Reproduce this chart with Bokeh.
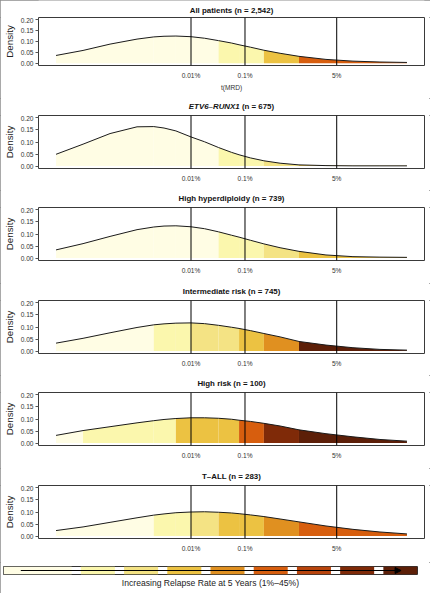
import math
from bokeh.plotting import figure
from bokeh.layouts import column, row
from bokeh.models import (Range1d, FixedTicker, NumeralTickFormatter, Span, Label,
                          Arrow, NormalHead, Title)
from bokeh.embed import file_html
from bokeh.resources import INLINE

# ---------------- data ----------------
log10_mrd = [-6.5, -6.0, -5.5, -5.0, -4.69, -4.5, -4.28, -4.0, -3.75, -3.49,
             -3.25, -3.11, -2.9, -2.65, -2.35, -2.0, -1.5, -1.0, -0.5, 0.0]

density_all = [0.036, 0.059, 0.088, 0.111, 0.121, 0.124, 0.125, 0.122, 0.115, 0.104,
               0.093, 0.085, 0.074, 0.060, 0.046, 0.032, 0.018, 0.010, 0.006, 0.004]
density_etv6 = [0.049, 0.091, 0.135, 0.163, 0.164, 0.158, 0.146, 0.121, 0.101, 0.077,
                0.057, 0.047, 0.034, 0.022, 0.012, 0.005, 0.002, 0.001, 0.001, 0.001]
density_heh = [0.034, 0.060, 0.090, 0.118, 0.129, 0.133, 0.134, 0.130, 0.122, 0.109,
               0.095, 0.087, 0.074, 0.059, 0.043, 0.028, 0.013, 0.006, 0.004, 0.003]
density_ir = [0.033, 0.053, 0.076, 0.098, 0.109, 0.113, 0.116, 0.117, 0.114, 0.107,
              0.099, 0.094, 0.085, 0.073, 0.059, 0.040, 0.025, 0.014, 0.007, 0.004]
density_hr = [0.032, 0.052, 0.068, 0.084, 0.093, 0.098, 0.102, 0.105, 0.105, 0.103,
              0.099, 0.095, 0.090, 0.082, 0.071, 0.055, 0.039, 0.026, 0.015, 0.008]
density_tall = [0.023, 0.038, 0.057, 0.076, 0.087, 0.092, 0.097, 0.100, 0.101, 0.099,
                0.096, 0.093, 0.088, 0.081, 0.071, 0.059, 0.042, 0.028, 0.017, 0.009]

band_edges = [-6.5, -6.0, -4.69, -4.28, -4.0, -3.49, -3.11, -2.65, -2.0, 0.0]

levels_all = [0, 0, 0, 0, 0, 1, 1, 3, 5]
levels_etv6 = [0, 0, 0, 0, 0, 1, 1, 2, 3]
levels_heh = [0, 0, 0, 0, 0, 1, 1, 2, 3]
levels_ir = [0, 0, 1, 1, 2, 2, 3, 4, 8]
levels_hr = [0, 1, 1, 3, 3, 3, 5, 7, 8]
levels_tall = [0, 0, 1, 1, 2, 3, 3, 4, 5]

relapse_colors = ["#fffde4", "#fbf7ad", "#f4e384", "#ecc242", "#e09020",
                  "#d75e0e", "#b8440c", "#7f2a08", "#5c1f08"]

panel_titles = ["All patients (n = 2,542)", None, "High hyperdiploidy (n = 739)",
                "Intermediate risk (n = 745)", "High risk (n = 100)", "T\u2013ALL (n = 283)"]
etv6_gene = "ETV6\u2013RUNX1"
etv6_count = "(n = 675)"

mrd_tick_pct = [0.01, 0.1, 5]
mrd_tick_labels = ["0.01%", "0.1%", "5%"]
density_ticks = [0.0, 0.05, 0.10, 0.15, 0.20]

x_label = "t(MRD)"
y_label = "Density"
legend_text = "Increasing Relapse Rate at 5 Years (1%\u201345%)"

# ---------------- styling / layout ----------------
FONT = "Liberation Sans"
X_RANGE = (-6.825, 0.325)
Y_RANGE = (-0.01, 0.21)
LEFT, FRAME_W, RIGHT = 38, 386, 6
TITLE_H = 17
frame_h = [48, 53, 53, 53, 53, 53]
bottom_b = [33, 22, 23, 22, 23, 24]
title_y = [7.0, 8.7, 8.7, 8.7, 8.7, 8.7]
tick_pos = [math.log10(p / 100.0) for p in mrd_tick_pct]

series = [density_all, density_etv6, density_heh, density_ir, density_hr, density_tall]
levels = [levels_all, levels_etv6, levels_heh, levels_ir, levels_hr, levels_tall]


def make_title(i):
    t = figure(frame_width=FRAME_W, frame_height=TITLE_H,
               min_border_left=LEFT, min_border_right=RIGHT,
               min_border_top=0, min_border_bottom=0,
               x_range=Range1d(*X_RANGE), y_range=Range1d(0, TITLE_H),
               x_axis_location=None, y_axis_location=None,
               output_backend="svg", toolbar_location=None)
    t.xgrid.grid_line_color = None
    t.ygrid.grid_line_color = None
    t.outline_line_color = None
    cx = (X_RANGE[0] + X_RANGE[1]) / 2
    ppx = FRAME_W / (X_RANGE[1] - X_RANGE[0])
    common = dict(y=title_y[i], text_baseline="middle", text_font=FONT,
                  text_font_size="7.9px", text_color="#111111")
    if panel_titles[i] is not None:
        t.add_layout(Label(x=cx, text=panel_titles[i], text_align="center",
                           text_font_style="bold", **common))
    else:
        t.add_layout(Label(x=cx + 8.2 / ppx, text=etv6_gene, text_align="right",
                           text_font_style="bold italic", **common))
        t.add_layout(Label(x=cx + 10.4 / ppx, text=etv6_count, text_align="left",
                           text_font_style="bold", **common))
    return t


def make_panel(i):
    first = i == 0
    p = figure(frame_width=FRAME_W, frame_height=frame_h[i],
               min_border_left=LEFT, min_border_right=RIGHT,
               min_border_top=0, min_border_bottom=bottom_b[i],
               x_range=Range1d(*X_RANGE), y_range=Range1d(*Y_RANGE),
               output_backend="svg", toolbar_location=None)
    p.xgrid.grid_line_color = None
    p.ygrid.grid_line_color = None
    p.outline_line_color = "#3a3a3a"
    p.outline_line_width = 1

    ys = series[i]
    for b in range(len(band_edges) - 1):
        lo, hi = band_edges[b], band_edges[b + 1]
        xs = [x for x in log10_mrd if lo <= x <= hi]
        yb = [y for x, y in zip(log10_mrd, ys) if lo <= x <= hi]
        p.varea(x=xs, y1=[0] * len(xs), y2=yb, fill_color=relapse_colors[levels[i][b]])
    p.line(log10_mrd, ys, line_color="#1a1a1a", line_width=1)

    for t in tick_pos:
        p.add_layout(Span(location=t, dimension="height", line_color="black", line_width=1))

    p.xaxis.ticker = FixedTicker(ticks=tick_pos)
    p.xaxis.major_label_overrides = {t: l for t, l in zip(tick_pos, mrd_tick_labels)}
    p.xaxis.axis_line_color = None
    p.xaxis.major_tick_out = 0
    p.xaxis.major_tick_in = 0
    p.xaxis.minor_tick_line_color = None
    p.xaxis.major_label_standoff = 6
    p.xaxis.major_label_text_font = FONT
    p.xaxis.major_label_text_font_size = "6.6px"
    p.xaxis.major_label_text_color = "#333333"
    if first:
        p.xaxis.axis_label = x_label
        p.xaxis.axis_label_text_font = FONT
        p.xaxis.axis_label_text_font_size = "6.6px"
        p.xaxis.axis_label_text_font_style = "normal"
        p.xaxis.axis_label_text_color = "#333333"
        p.xaxis.axis_label_standoff = 2

    p.yaxis.ticker = FixedTicker(ticks=density_ticks)
    p.yaxis.formatter = NumeralTickFormatter(format="0.00")
    p.yaxis.axis_line_color = None
    p.yaxis.major_tick_out = 3
    p.yaxis.major_tick_in = 0
    p.yaxis.major_tick_line_color = "#555555"
    p.yaxis.minor_tick_line_color = None
    p.yaxis.major_label_standoff = 2
    p.yaxis.major_label_text_font = FONT
    p.yaxis.major_label_text_font_size = "6.6px"
    p.yaxis.major_label_text_color = "#333333"
    p.yaxis.axis_label = y_label
    p.yaxis.axis_label_text_font = FONT
    p.yaxis.axis_label_text_font_size = "9.8px"
    p.yaxis.axis_label_text_font_style = "normal"
    p.yaxis.axis_label_text_color = "#222222"
    p.yaxis.axis_label_standoff = 3
    return p


children = []
for i in range(6):
    children.append(make_title(i))
    children.append(make_panel(i))

# ---------------- legend strip ----------------
lg = figure(frame_width=414, frame_height=8, min_border_left=3, min_border_right=13,
            min_border_top=4, min_border_bottom=19,
            x_range=Range1d(-0.79, 8.79), y_range=Range1d(0, 1),
            x_axis_location=None, y_axis_location=None,
            output_backend="svg", toolbar_location=None)
lg.xgrid.grid_line_color = None
lg.ygrid.grid_line_color = None
lg.outline_line_color = "#333333"
lg.outline_line_width = 1
lefts = [float(k) for k in range(len(relapse_colors))]
lefts[0] = -0.79
rights = [k + 0.787 for k in range(len(relapse_colors))]
lg.quad(left=lefts, right=rights, bottom=0, top=1, fill_color=relapse_colors, line_color=None)
lg.add_layout(Arrow(x_start=-0.39, y_start=0.5, x_end=8.41, y_end=0.5, line_width=1,
                    line_color="black",
                    end=NormalHead(size=6, fill_color="black", line_color="black")))
lg.add_layout(Title(text=legend_text, align="center", text_font=FONT,
                    text_font_size="8.6px", text_font_style="normal",
                    text_color="#222222", standoff=3), "below")

layout = column(column(*children, spacing=0), row(lg, spacing=0), spacing=0,
                styles={"outline": "1px solid #8c8c8c", "outline-offset": "-1px"})
open("out.html", "w").write(file_html(layout, INLINE))
